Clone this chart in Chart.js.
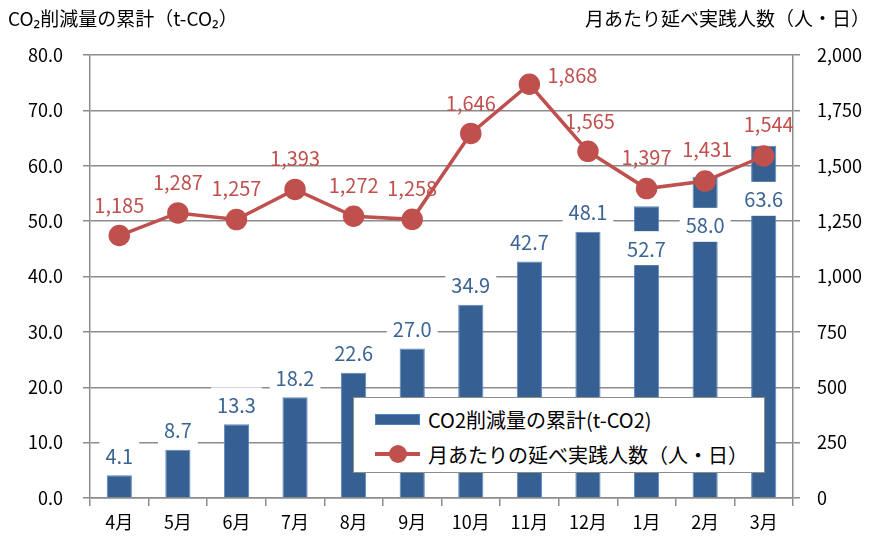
<!DOCTYPE html>
<html lang="ja">
<head>
<meta charset="utf-8">
<script src="https://cdn.jsdelivr.net/npm/chart.js@4/dist/chart.umd.min.js"></script>
<style>
  body { margin: 0; background: #fff; font-family: "Noto Sans CJK JP", "Noto Sans", sans-serif; }
  #wrap { position: relative; width: 878px; height: 545px; }
  .title { position: absolute; top: 4px; font-size: 19px; color: #000; white-space: nowrap; }
  #legend {
    position: absolute; left: 353px; top: 397px; width: 412px; height: 76px;
    box-sizing: border-box; background: #fff; border: 1px solid #8c8c8c;
    font-size: 20px; color: #000;
  }
  .row { position: absolute; left: 21px; display: flex; align-items: center; height: 30px; }
  .swatch { width: 45px; height: 11px; margin-right: 8px; position: relative; }
</style>
</head>
<body>
<div id="wrap">
  <canvas id="chart" width="878" height="545"></canvas>
  <div class="title" style="left:8px;">CO₂削減量の累計（t-CO₂）</div>
  <div class="title" style="right:8px;">月あたり延べ実践人数（人・日）</div>
  <div id="legend">
    <div class="row" style="top:6px;">
      <span class="swatch" style="background:#376092;border:1px solid #4f81bd;box-sizing:border-box;"></span>
      <span>CO2削減量の累計(t-CO2)</span>
    </div>
    <div class="row" style="top:41px;">
      <span class="swatch" style="height:30px;">
        <span style="position:absolute;left:0;top:13px;width:45px;height:4px;background:#c0504d;"></span>
        <span style="position:absolute;left:14px;top:6px;width:18px;height:18px;border-radius:50%;background:#c0504d;"></span>
      </span>
      <span>月あたりの延べ実践人数（人・日）</span>
    </div>
  </div>
</div>
<script>
const months = ['4月', '5月', '6月', '7月', '8月', '9月', '10月', '11月', '12月', '1月', '2月', '3月'];
const co2Total = [4.1, 8.7, 13.3, 18.2, 22.6, 27.0, 34.9, 42.7, 48.1, 52.7, 58.0, 63.6];
const practicePeople = [1185, 1287, 1257, 1393, 1272, 1258, 1646, 1868, 1565, 1397, 1431, 1544];
const leftTicks = [0, 10, 20, 30, 40, 50, 60, 70, 80];
const rightTicks = [0, 250, 500, 750, 1000, 1250, 1500, 1750, 2000];

// label placement (pixels from the bar top / point), tuned by eye
const barLabelDy = [-20, -20, -20, -20, -20, -20, -20, -20, -20, 42, 48, 53];
const lineLabelOff = [[0, -30], [0, -31], [0, -31], [0, -31], [0, -31], [0, -31],
  [0, -30], [43, -9], [2, -30], [0, -31], [2, -32], [5, -32]];

const BLUE = '#376092';
const RED = '#c0504d';
const GRID = '#8c8c8c';
const FONT = '"Noto Sans CJK JP", "Noto Sans", sans-serif';

const fmtInt = v => v.toLocaleString('en-US');

const labelPlugin = {
  id: 'valueLabels',
  afterDatasetDraw(chart, args) {
    if (args.index !== 0) return;
    const ctx = chart.ctx;
    const meta = chart.getDatasetMeta(0);
    ctx.save();
    ctx.font = '20px ' + FONT;
    ctx.textAlign = 'center';
    ctx.textBaseline = 'middle';
    meta.data.forEach((bar, i) => {
      const txt = co2Total[i].toFixed(1);
      const x = bar.x;
      const y = bar.y + barLabelDy[i];
      const w = ctx.measureText(txt).width + 12;
      ctx.fillStyle = '#fff';
      ctx.fillRect(x - w / 2, y - 17, w, 34);
      ctx.fillStyle = '#3b6496';
      ctx.fillText(txt, x, y + 1);
    });
    ctx.restore();
  },
  beforeDatasetDraw(chart, args) {
    if (args.index !== 1) return;
    const ctx = chart.ctx;
    const meta = chart.getDatasetMeta(1);
    ctx.save();
    ctx.font = '20px ' + FONT;
    ctx.textAlign = 'center';
    ctx.textBaseline = 'middle';
    ctx.fillStyle = RED;
    meta.data.forEach((pt, i) => {
      ctx.fillText(fmtInt(practicePeople[i]), pt.x + lineLabelOff[i][0], pt.y + lineLabelOff[i][1]);
    });
    ctx.restore();
  }
};

new Chart(document.getElementById('chart'), {
  data: {
    labels: months,
    datasets: [
      {
        type: 'bar',
        label: 'CO2削減量の累計(t-CO2)',
        data: co2Total,
        yAxisID: 'y',
        backgroundColor: BLUE,
        borderColor: '#5b87c5',
        borderWidth: 1,
        barPercentage: 0.43,
        categoryPercentage: 1,
        order: 2,
      },
      {
        type: 'line',
        label: '月あたりの延べ実践人数（人・日）',
        data: practicePeople,
        yAxisID: 'y1',
        borderColor: RED,
        borderWidth: 3.5,
        pointRadius: 9,
        pointBackgroundColor: RED,
        pointBorderColor: RED,
        tension: 0,
        order: 1,
      },
    ],
  },
  options: {
    responsive: false,
    animation: false,
    layout: { padding: { top: 55, left: 0, right: 0, bottom: 0 } },
    plugins: {
      legend: { display: false },
      tooltip: { enabled: false },
    },
    scales: {
      x: {
        offset: true,
        grid: { drawOnChartArea: false, offset: true, color: GRID, lineWidth: 1.5, tickLength: 8 },
        border: { color: GRID, width: 1.5 },
        ticks: { color: '#000', font: { family: FONT, size: 18 }, padding: 5 },
        afterFit: s => { s.height = 47; },
      },
      y: {
        position: 'left',
        min: 0,
        max: 80,
        afterBuildTicks: s => { s.ticks = leftTicks.map(v => ({ value: v })); },
        ticks: { color: '#000', font: { family: FONT, size: 18 }, padding: 20, callback: v => v.toFixed(1) },
        grid: { color: GRID, lineWidth: 1.5, tickLength: 7 },
        border: { color: GRID, width: 1.5 },
        afterFit: s => { s.width = 90; },
      },
      y1: {
        position: 'right',
        min: 0,
        max: 2000,
        afterBuildTicks: s => { s.ticks = rightTicks.map(v => ({ value: v })); },
        ticks: { color: '#000', font: { family: FONT, size: 18 }, padding: 17, callback: v => fmtInt(v) },
        grid: { drawOnChartArea: false, color: GRID, lineWidth: 1.5, tickLength: 7 },
        border: { color: GRID, width: 1.5 },
        afterFit: s => { s.width = 85; },
      },
    },
  },
  plugins: [labelPlugin],
});
</script>
</body>
</html>
